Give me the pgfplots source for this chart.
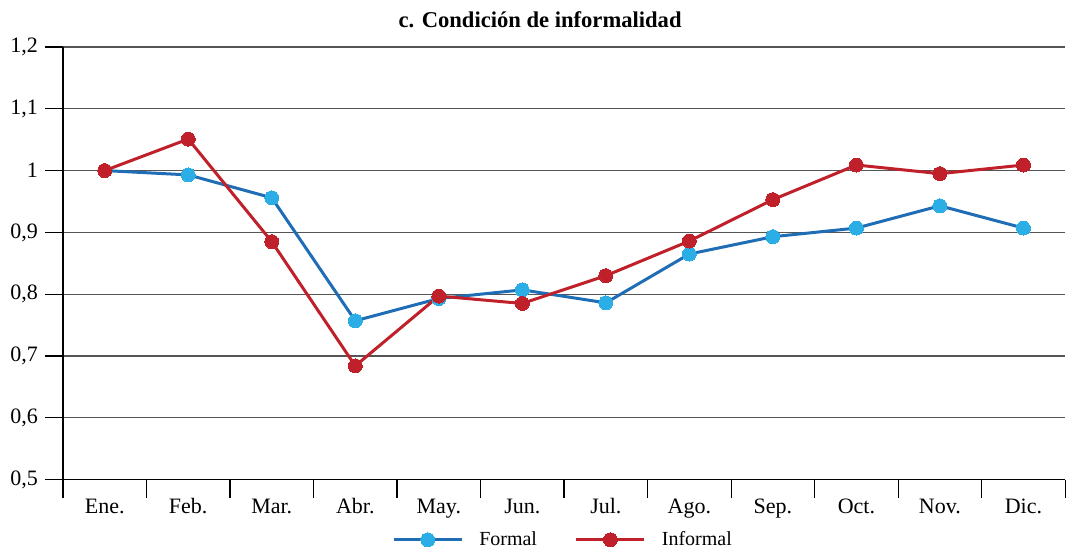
\documentclass[border=0pt]{standalone}
\usepackage{pgfplots}
\pgfplotsset{compat=1.18}
\usepackage{fontspec}
\setmainfont{Liberation Serif}
\definecolor{fline}{HTML}{1F6DB5}
\definecolor{fmark}{HTML}{2AAEE5}
\definecolor{iline}{HTML}{C0202A}
\definecolor{gridc}{HTML}{555555}
\begin{document}
\begin{tikzpicture}
\begin{axis}[
  scale only axis,
  width=501.5pt, height=216.5pt,
  xmin=-0.5, xmax=11.5,
  ymin=0.5, ymax=1.2,
  axis lines*=left,
  axis line style={black, line width=0.8pt},
  tick align=outside,
  major tick length=9pt,
  tick style={black, line width=0.6pt},
  ytick={0.5,0.6,0.7,0.8,0.9,1.0,1.1,1.2},
  ymajorgrids,
  grid style={gridc, line width=0.6pt},
  xtick={-0.5,0.5,1.5,2.5,3.5,4.5,5.5,6.5,7.5,8.5,9.5,10.5,11.5},
  xticklabels={Ene.,Feb.,Mar.,Abr.,May.,Jun.,Jul.,Ago.,Sep.,Oct.,Nov.,Dic.,{}},
  x tick label style={xshift=20.896pt, yshift=3pt, overlay},
  /pgf/number format/assume math mode=true,
  /pgf/number format/use comma,
  /pgf/number format/fixed,
  /pgf/number format/precision=1,
  tick label style={font=\fontsize{11}{13}\selectfont},
  title={\textbf{c. Condición de informalidad}},
  title style={font=\fontsize{11.3}{13}\selectfont, xshift=-12pt},
  legend columns=2,
  legend style={draw=none, at={(0.5,-0.139)}, anchor=center, font=\fontsize{10}{12}\selectfont,
    /tikz/every odd column/.append style={column sep=6pt},
    /tikz/every even column/.append style={column sep=17pt}},
  legend image code/.code={\draw[#1, mark repeat=2, mark phase=2] plot coordinates {(0pt,0pt) (17pt,0pt) (34pt,0pt)};},
  clip=false,
]
\addplot[fline, line width=1.5pt, mark=*, mark size=3.5pt, mark options={fmark, fill=fmark, line width=0pt}]
 coordinates {(0,1.000) (1,0.993) (2,0.956) (3,0.757) (4,0.793) (5,0.807) (6,0.786) (7,0.865) (8,0.893) (9,0.907) (10,0.943) (11,0.907)};
\addlegendentry{Formal}
\addplot[iline, line width=1.5pt, mark=*, mark size=3.5pt, mark options={iline, fill=iline, line width=0pt}]
 coordinates {(0,1.000) (1,1.051) (2,0.885) (3,0.684) (4,0.797) (5,0.785) (6,0.830) (7,0.886) (8,0.953) (9,1.009) (10,0.995) (11,1.009)};
\addlegendentry{Informal}
\end{axis}
\path (current axis.south west) ++(-31.5pt,-36pt) coordinate (bbA);
\path (current axis.north east) ++(0pt,23.5pt) coordinate (bbB);
\path (bbA) -- (bbB);
\end{tikzpicture}
\end{document}
